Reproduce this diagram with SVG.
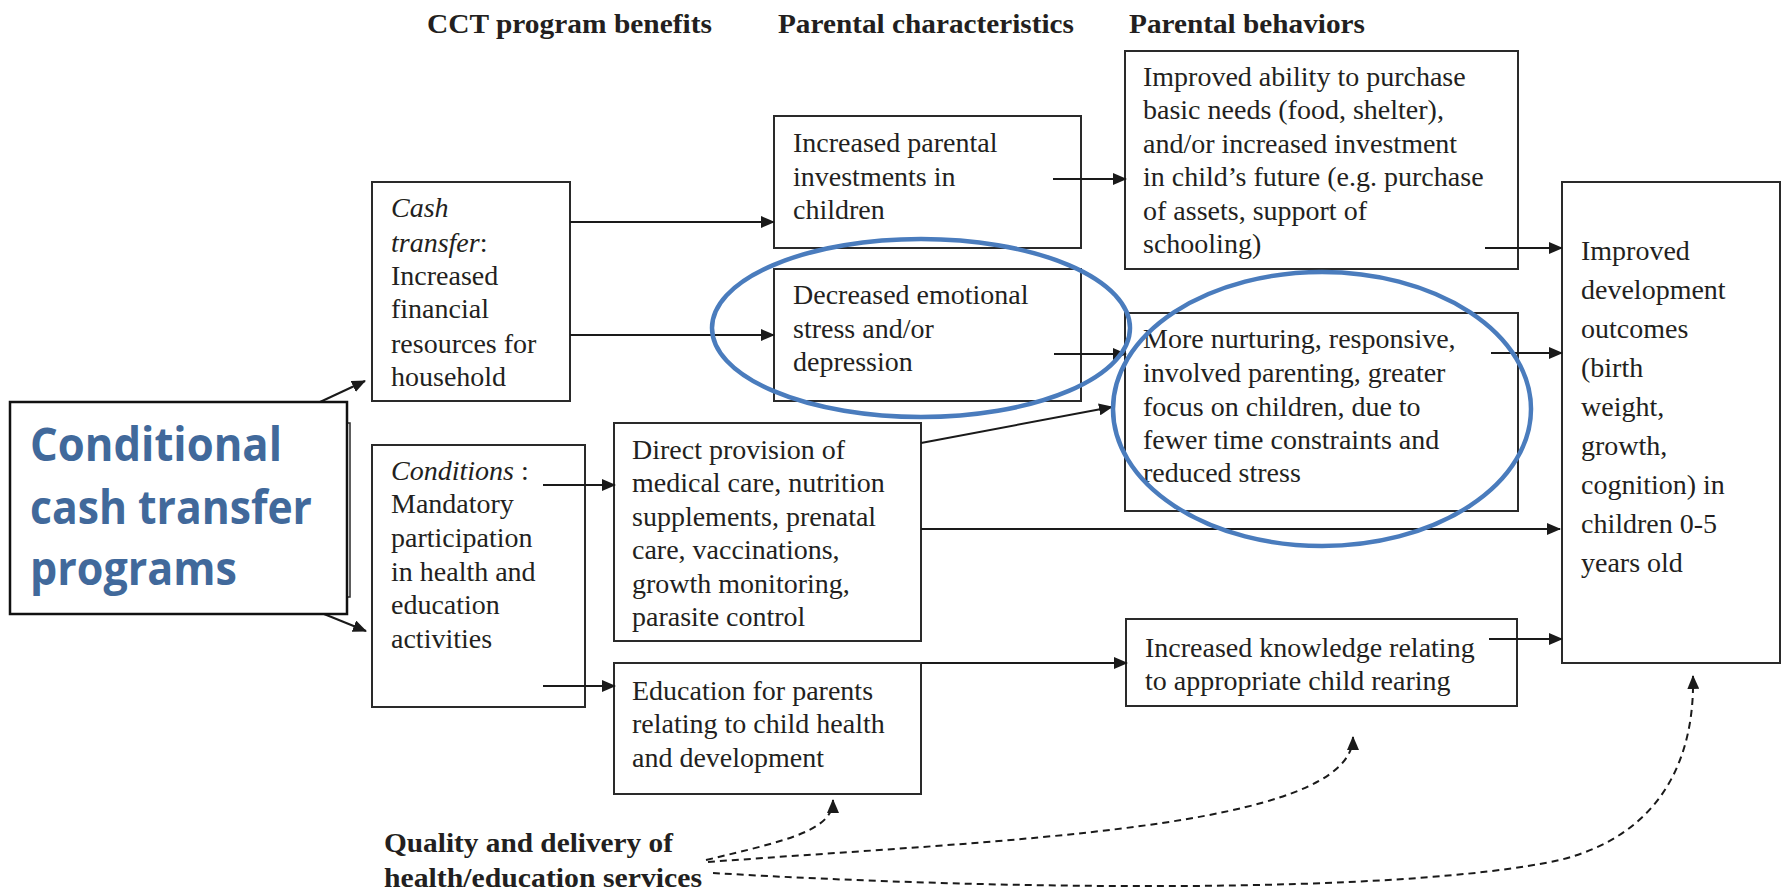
<svg xmlns="http://www.w3.org/2000/svg" width="1786" height="895" viewBox="0 0 1786 895">
<style>
.box{fill:#fff;stroke:#2a2a2a;stroke-width:2}
.t{font-family:"Liberation Serif","Times New Roman",serif;font-size:28px;fill:#231f20}
.h{font-family:"Liberation Serif","Times New Roman",serif;font-size:28px;font-weight:bold;fill:#231f20}
.big{font-family:"Open Sans","Liberation Sans",sans-serif;font-size:46px;font-weight:bold;fill:#41699b}
.c{stroke:#1a1a1a;stroke-width:2;fill:none}
.d{stroke:#1a1a1a;stroke-width:2;fill:none;stroke-dasharray:7 5}
.ring{fill:none;stroke:#4a7cbd;stroke-width:4.5}
</style>
<defs>
<marker id="ah" viewBox="0 0 14 12" refX="13" refY="6" markerWidth="14" markerHeight="12" markerUnits="userSpaceOnUse" orient="auto">
<path d="M0,0 L14,6 L0,12 z" fill="#1a1a1a"/>
</marker>
</defs>

<g id="headers">
<text class="h" x="427" y="33" textLength="285" lengthAdjust="spacingAndGlyphs">CCT program benefits</text>
<text class="h" x="778" y="33" textLength="296" lengthAdjust="spacingAndGlyphs">Parental characteristics</text>
<text class="h" x="1129" y="33" textLength="236" lengthAdjust="spacingAndGlyphs">Parental behaviors</text>
</g>

<g id="cash-transfer">
<rect class="box" x="372" y="182" width="198" height="219"/>
<text class="t" x="391" y="217"><tspan font-style="italic">Cash</tspan></text>
<text class="t" x="391" y="252"><tspan font-style="italic">transfer</tspan>:</text>
<text class="t" x="391" y="285">Increased</text>
<text class="t" x="391" y="318">financial</text>
<text class="t" x="391" y="353">resources for</text>
<text class="t" x="391" y="386">household</text>
</g>

<g id="conditions">
<rect class="box" x="372" y="445" width="213" height="262"/>
<text class="t" x="391" y="480"><tspan font-style="italic">Conditions</tspan> :</text>
<text class="t" x="391" y="513">Mandatory</text>
<text class="t" x="391" y="547">participation</text>
<text class="t" x="391" y="581">in health and</text>
<text class="t" x="391" y="614">education</text>
<text class="t" x="391" y="648">activities</text>
</g>

<g id="parental-investments">
<rect class="box" x="774" y="116" width="307" height="132"/>
<text class="t" x="793" y="152">Increased parental</text>
<text class="t" x="793" y="186">investments in</text>
<text class="t" x="793" y="219">children</text>
</g>

<g id="emotional-stress">
<rect class="box" x="774" y="269" width="307" height="132"/>
<text class="t" x="793" y="304">Decreased emotional</text>
<text class="t" x="793" y="338">stress and/or</text>
<text class="t" x="793" y="371">depression</text>
</g>

<g id="direct-provision">
<rect class="box" x="614" y="423" width="307" height="218"/>
<text class="t" x="632" y="459">Direct provision of</text>
<text class="t" x="632" y="492">medical care, nutrition</text>
<text class="t" x="632" y="526">supplements, prenatal</text>
<text class="t" x="632" y="559">care, vaccinations,</text>
<text class="t" x="632" y="593">growth monitoring,</text>
<text class="t" x="632" y="626">parasite control</text>
</g>

<g id="education-parents">
<rect class="box" x="614" y="663" width="307" height="131"/>
<text class="t" x="632" y="700">Education for parents</text>
<text class="t" x="632" y="733">relating to child health</text>
<text class="t" x="632" y="767">and development</text>
</g>

<g id="purchase-needs">
<rect class="box" x="1125" y="51" width="393" height="218"/>
<text class="t" x="1143" y="86">Improved ability to purchase</text>
<text class="t" x="1143" y="119">basic needs (food, shelter),</text>
<text class="t" x="1143" y="153">and/or increased investment</text>
<text class="t" x="1143" y="186">in child’s future (e.g. purchase</text>
<text class="t" x="1143" y="220">of assets, support of</text>
<text class="t" x="1143" y="253">schooling)</text>
</g>

<g id="nurturing">
<rect class="box" x="1125" y="313" width="393" height="198"/>
<text class="t" x="1143" y="348">More nurturing, responsive,</text>
<text class="t" x="1143" y="382">involved parenting, greater</text>
<text class="t" x="1143" y="416">focus on children, due to</text>
<text class="t" x="1143" y="449">fewer time constraints and</text>
<text class="t" x="1143" y="482">reduced stress</text>
</g>

<g id="knowledge">
<rect class="box" x="1126" y="619" width="391" height="87"/>
<text class="t" x="1145" y="657">Increased knowledge relating</text>
<text class="t" x="1145" y="690">to appropriate child rearing</text>
</g>

<g id="outcomes">
<rect class="box" x="1562" y="182" width="218" height="481"/>
<text class="t" x="1581" y="260">Improved</text>
<text class="t" x="1581" y="299">development</text>
<text class="t" x="1581" y="338">outcomes</text>
<text class="t" x="1581" y="377">(birth</text>
<text class="t" x="1581" y="416">weight,</text>
<text class="t" x="1581" y="455">growth,</text>
<text class="t" x="1581" y="494">cognition) in</text>
<text class="t" x="1581" y="533">children 0-5</text>
<text class="t" x="1581" y="572">years old</text>
</g>

<g id="quality">
<text class="h" x="384" y="852" textLength="289" lengthAdjust="spacingAndGlyphs">Quality and delivery of</text>
<text class="h" x="384" y="887" textLength="318" lengthAdjust="spacingAndGlyphs">health/education services</text>
</g>

<g id="connectors">
<line class="c" x1="320" y1="402" x2="365" y2="381" marker-end="url(#ah)"/>
<line class="c" x1="324" y1="614" x2="366" y2="631" marker-end="url(#ah)"/>
<line class="c" x1="570" y1="222" x2="774" y2="222" marker-end="url(#ah)"/>
<line class="c" x1="570" y1="335" x2="774" y2="335" marker-end="url(#ah)"/>
<line class="c" x1="1053" y1="179" x2="1126" y2="179" marker-end="url(#ah)"/>
<line class="c" x1="1054" y1="354" x2="1126" y2="354" marker-end="url(#ah)"/>
<line class="c" x1="1485" y1="248" x2="1562" y2="248" marker-end="url(#ah)"/>
<line class="c" x1="1491" y1="353" x2="1562" y2="353" marker-end="url(#ah)"/>
<line class="c" x1="921" y1="443" x2="1112" y2="407" marker-end="url(#ah)"/>
<line class="c" x1="921" y1="529" x2="1560" y2="529" marker-end="url(#ah)"/>
<line class="c" x1="543" y1="485" x2="615" y2="485" marker-end="url(#ah)"/>
<line class="c" x1="543" y1="686" x2="615" y2="686" marker-end="url(#ah)"/>
<line class="c" x1="921" y1="663" x2="1127" y2="663" marker-end="url(#ah)"/>
<line class="c" x1="1489" y1="639" x2="1562" y2="639" marker-end="url(#ah)"/>
<path class="d" d="M706,860 C790,840 833,830 833,800" marker-end="url(#ah)"/>
<path class="d" d="M708,862 C1000,840 1353,830 1353,737" marker-end="url(#ah)"/>
<path class="d" d="M713,873 C1000,890 1400,895 1560,860 C1660,835 1695,760 1693,676" marker-end="url(#ah)"/>
</g>

<g id="cct-programs">
<rect x="300" y="423" width="50" height="174" fill="#fff" stroke="#2a2a2a" stroke-width="1.5"/>
<rect x="10" y="402" width="337" height="212" fill="#fff" stroke="#111" stroke-width="2.5"/>
<text class="big" x="30" y="461" textLength="252" lengthAdjust="spacingAndGlyphs">Conditional</text>
<text class="big" x="30" y="524" textLength="282" lengthAdjust="spacingAndGlyphs">cash transfer</text>
<text class="big" x="30" y="585" textLength="207" lengthAdjust="spacingAndGlyphs">programs</text>
</g>

<g id="highlights">
<ellipse class="ring" cx="921" cy="328" rx="209" ry="89"/>
<ellipse class="ring" cx="1322" cy="409" rx="209" ry="137"/>
</g>
</svg>
